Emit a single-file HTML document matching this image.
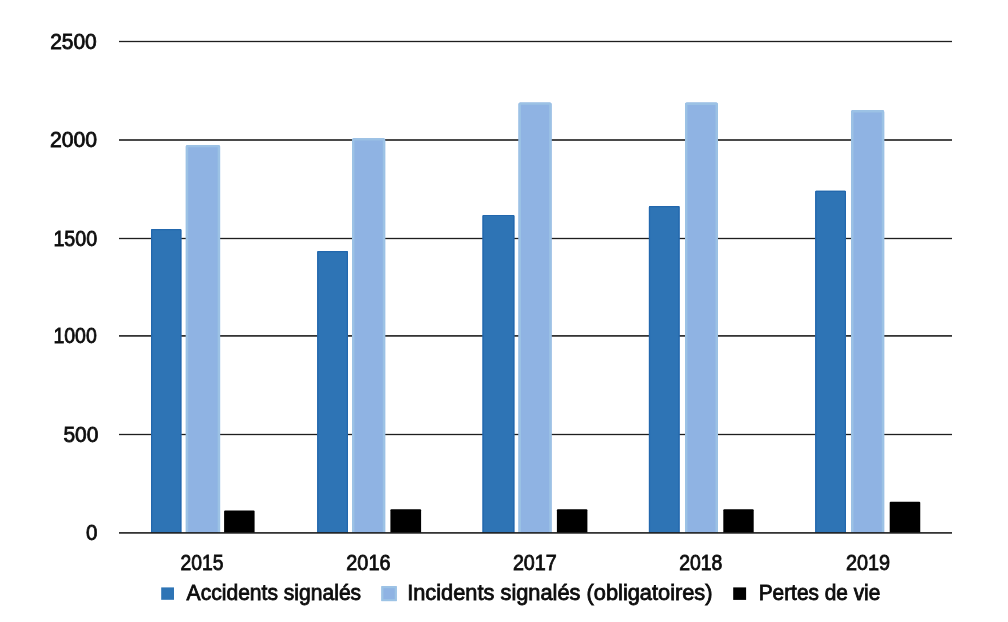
<!DOCTYPE html>
<html><head><meta charset="utf-8"><style>
html,body{margin:0;padding:0;background:#fff;width:1008px;height:622px;overflow:hidden}
svg{display:block;will-change:transform}
.t{font-family:"Liberation Sans",sans-serif;font-size:21.5px;fill:#0d0d0d;stroke:#0d0d0d;stroke-width:0.8px;font-kerning:none}
</style></head><body>
<svg width="1008" height="622" viewBox="0 0 1008 622">
<rect x="119" y="40.85" width="833" height="1.3" fill="#1e1e1e"/>
<rect x="119" y="139.20" width="833" height="1.6" fill="#1e1e1e"/>
<rect x="119" y="237.85" width="833" height="1.3" fill="#1e1e1e"/>
<rect x="119" y="335.10" width="833" height="1.6" fill="#1e1e1e"/>
<rect x="119" y="433.85" width="833" height="1.3" fill="#1e1e1e"/>
<path d="M151.00,533.00 V230.10 Q151.00,229.10 152.00,229.10 H180.40 Q181.40,229.10 181.40,230.10 V533.00 Z" fill="#2e74b5"/>
<path d="M151.60,533.00 V230.30 Q151.60,229.70 152.20,229.70 H180.20 Q180.80,229.70 180.80,230.30 V533.00" fill="none" stroke="#2267ad" stroke-width="1.2"/>
<path d="M185.80,533.00 V146.50 Q185.80,144.90 187.40,144.90 H218.50 Q220.10,144.90 220.10,146.50 V533.00 Z" fill="#8fb3e3"/>
<path d="M187.00,533.00 V146.70 Q187.00,146.10 187.60,146.10 H218.30 Q218.90,146.10 218.90,146.70 V533.00" fill="none" stroke="#9cc2e5" stroke-width="2.4"/>
<path d="M224.10,533.00 V511.60 Q224.10,510.60 225.10,510.60 H253.60 Q254.60,510.60 254.60,511.60 V533.00 Z" fill="#000"/>
<path d="M317.20,533.00 V252.00 Q317.20,251.00 318.20,251.00 H347.00 Q348.00,251.00 348.00,252.00 V533.00 Z" fill="#2e74b5"/>
<path d="M317.80,533.00 V252.20 Q317.80,251.60 318.40,251.60 H346.80 Q347.40,251.60 347.40,252.20 V533.00" fill="none" stroke="#2267ad" stroke-width="1.2"/>
<path d="M352.00,533.00 V139.80 Q352.00,138.20 353.60,138.20 H383.60 Q385.20,138.20 385.20,139.80 V533.00 Z" fill="#8fb3e3"/>
<path d="M353.20,533.00 V140.00 Q353.20,139.40 353.80,139.40 H383.40 Q384.00,139.40 384.00,140.00 V533.00" fill="none" stroke="#9cc2e5" stroke-width="2.4"/>
<path d="M390.40,533.00 V510.30 Q390.40,509.30 391.40,509.30 H420.10 Q421.10,509.30 421.10,510.30 V533.00 Z" fill="#000"/>
<path d="M482.50,533.00 V215.90 Q482.50,214.90 483.50,214.90 H513.40 Q514.40,214.90 514.40,215.90 V533.00 Z" fill="#2e74b5"/>
<path d="M483.10,533.00 V216.10 Q483.10,215.50 483.70,215.50 H513.20 Q513.80,215.50 513.80,216.10 V533.00" fill="none" stroke="#2267ad" stroke-width="1.2"/>
<path d="M518.50,533.00 V104.00 Q518.50,102.40 520.10,102.40 H550.00 Q551.60,102.40 551.60,104.00 V533.00 Z" fill="#8fb3e3"/>
<path d="M519.70,533.00 V104.20 Q519.70,103.60 520.30,103.60 H549.80 Q550.40,103.60 550.40,104.20 V533.00" fill="none" stroke="#9cc2e5" stroke-width="2.4"/>
<path d="M556.90,533.00 V510.30 Q556.90,509.30 557.90,509.30 H586.40 Q587.40,509.30 587.40,510.30 V533.00 Z" fill="#000"/>
<path d="M648.90,533.00 V207.10 Q648.90,206.10 649.90,206.10 H678.60 Q679.60,206.10 679.60,207.10 V533.00 Z" fill="#2e74b5"/>
<path d="M649.50,533.00 V207.30 Q649.50,206.70 650.10,206.70 H678.40 Q679.00,206.70 679.00,207.30 V533.00" fill="none" stroke="#2267ad" stroke-width="1.2"/>
<path d="M685.00,533.00 V104.10 Q685.00,102.50 686.60,102.50 H716.30 Q717.90,102.50 717.90,104.10 V533.00 Z" fill="#8fb3e3"/>
<path d="M686.20,533.00 V104.30 Q686.20,103.70 686.80,103.70 H716.10 Q716.70,103.70 716.70,104.30 V533.00" fill="none" stroke="#9cc2e5" stroke-width="2.4"/>
<path d="M723.30,533.00 V510.30 Q723.30,509.30 724.30,509.30 H752.70 Q753.70,509.30 753.70,510.30 V533.00 Z" fill="#000"/>
<path d="M815.20,533.00 V191.70 Q815.20,190.70 816.20,190.70 H845.00 Q846.00,190.70 846.00,191.70 V533.00 Z" fill="#2e74b5"/>
<path d="M815.80,533.00 V191.90 Q815.80,191.30 816.40,191.30 H844.80 Q845.40,191.30 845.40,191.90 V533.00" fill="none" stroke="#2267ad" stroke-width="1.2"/>
<path d="M851.10,533.00 V111.70 Q851.10,110.10 852.70,110.10 H882.60 Q884.20,110.10 884.20,111.70 V533.00 Z" fill="#8fb3e3"/>
<path d="M852.30,533.00 V111.90 Q852.30,111.30 852.90,111.30 H882.40 Q883.00,111.30 883.00,111.90 V533.00" fill="none" stroke="#9cc2e5" stroke-width="2.4"/>
<path d="M889.70,533.00 V502.70 Q889.70,501.70 890.70,501.70 H919.25 Q920.25,501.70 920.25,502.70 V533.00 Z" fill="#000"/>
<rect x="119" y="532.10" width="833" height="1.6" fill="#1e1e1e"/>
<text x="50.14" y="48.60" textLength="46.67" lengthAdjust="spacingAndGlyphs" class="t">2500</text>
<text x="49.98" y="147.00" textLength="47.14" lengthAdjust="spacingAndGlyphs" class="t">2000</text>
<text x="53.40" y="245.80" textLength="43.77" lengthAdjust="spacingAndGlyphs" class="t">1500</text>
<text x="53.41" y="342.95" textLength="43.45" lengthAdjust="spacingAndGlyphs" class="t">1000</text>
<text x="63.46" y="441.60" textLength="34.96" lengthAdjust="spacingAndGlyphs" class="t">500</text>
<text x="85.90" y="539.50" textLength="11.46" lengthAdjust="spacingAndGlyphs" class="t">0</text>
<text x="180.53" y="570.20" textLength="42.98" lengthAdjust="spacingAndGlyphs" class="t">2015</text>
<text x="346.30" y="570.20" textLength="44.17" lengthAdjust="spacingAndGlyphs" class="t">2016</text>
<text x="512.91" y="570.20" textLength="43.88" lengthAdjust="spacingAndGlyphs" class="t">2017</text>
<text x="679.22" y="570.20" textLength="43.22" lengthAdjust="spacingAndGlyphs" class="t">2018</text>
<text x="845.90" y="570.20" textLength="44.14" lengthAdjust="spacingAndGlyphs" class="t">2019</text>
<rect x="161.2" y="587.4" width="12.8" height="12.4" fill="#2e74b5"/>
<text x="186.61" y="599.80" textLength="174.55" lengthAdjust="spacingAndGlyphs" class="t">Accidents signalés</text>
<rect x="381.4" y="586.2" width="15.3" height="14.9" fill="#8fb3e3"/>
<rect x="382.4" y="587.2" width="13.3" height="12.9" fill="none" stroke="#9cc3e5" stroke-width="2"/>
<text x="407.19" y="599.80" textLength="305.36" lengthAdjust="spacingAndGlyphs" class="t">Incidents signalés (obligatoires)</text>
<rect x="733.2" y="587.4" width="12.9" height="12.5" fill="#000"/>
<text x="758.69" y="599.80" textLength="121.64" lengthAdjust="spacingAndGlyphs" class="t">Pertes de vie</text>
</svg>
</body></html>
